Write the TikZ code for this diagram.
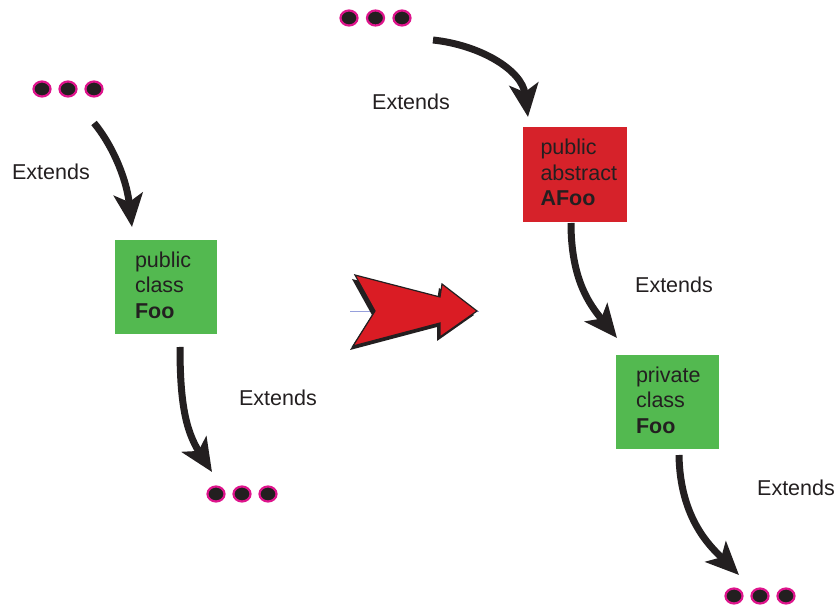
\documentclass[tikz,border=0pt]{standalone}
\usepackage{fontspec}
\setmainfont{Liberation Sans}
\usetikzlibrary{arrows.meta,shapes.geometric}
\definecolor{ink}{RGB}{35,31,32}
\definecolor{dotrim}{RGB}{222,20,140}
\definecolor{classgreen}{RGB}{83,185,80}
\definecolor{abstractred}{RGB}{214,34,42}
\definecolor{bigred}{RGB}{218,28,36}
\definecolor{guide}{RGB}{150,160,220}
\hfuzz=40pt
\hbadness=10000
\hyphenpenalty=10000

\begin{document}
\begin{tikzpicture}[x=1pt,y=-1pt,
  dotnode/.style={ellipse,draw=dotrim,line width=2.2pt,fill=ink,inner sep=0pt,
    minimum width=17pt,minimum height=15pt},
  classbox/.style={align=left,inner xsep=20pt,inner ysep=0pt,minimum height=94pt,
    text depth=55pt,text=ink,font=\fontsize{21.5}{25.5}\selectfont},
  lbl/.style={text=ink,inner sep=0pt,font=\fontsize{21.5}{25.5}\selectfont},
  extarrow/.style={draw=ink,line width=7pt,
    -{Stealth[length=33pt,width=29pt,inset=8pt]}}]
\useasboundingbox (0,0) rectangle (839,609);

% before: the dots, the class and its subclasses
\node[dotnode] (upa) at (42,89) {};
\node[dotnode] (upb) at (68,89) {};
\node[dotnode] (upc) at (94,89) {};
\node[classbox,fill=classgreen,text width=62pt] (foo) at (166,287) {public\\class\\\textbf{Foo}};
\node[dotnode] (downa) at (216,494) {};
\node[dotnode] (downb) at (242,494) {};
\node[dotnode] (downc) at (268,494) {};
\node[lbl] (ext1) at (51,172) {Extends};
\node[lbl] (ext2) at (278,398) {Extends};

% after: abstract base in between
\node[dotnode] (topa) at (349,18) {};
\node[dotnode] (topb) at (375.5,18) {};
\node[dotnode] (topc) at (402,18) {};
\node[classbox,fill=abstractred,text width=68pt,inner xsep=18pt,minimum height=95pt] (afoo) at (574.5,174.5) {public\\abstract\\\textbf{AFoo}};
\node[classbox,fill=classgreen,text width=63pt] (pfoo) at (667.5,402) {private\\class\\\textbf{Foo}};
\node[dotnode] (enda) at (734,596) {};
\node[dotnode] (endb) at (760,596) {};
\node[dotnode] (endc) at (786,596) {};
\node[lbl] (ext3) at (411,102) {Extends};
\node[lbl] (ext4) at (674,285) {Extends};
\node[lbl] (ext5) at (796,488) {Extends};

% arrow ends
\coordinate (a1s) at (94,123);
\coordinate (a1e) at (132,227);
\coordinate (a2s) at (180,347);
\coordinate (a2e) at (212,472);
\coordinate (a3s) at (433,40);
\coordinate (a3e) at (528,117);
\coordinate (a4s) at (571,223);
\coordinate (a4e) at (617,338);
\coordinate (a5s) at (679,455);
\coordinate (a5e) at (739,575);

\draw[extarrow] (a1s) .. controls (110,142) and (126,175) .. (a1e);
\draw[extarrow] (a2s) .. controls (180,400) and (185,430) .. (a2e);
\draw[extarrow] (a3s) .. controls (480,45) and (522,70) .. (a3e);
\draw[extarrow] (a4s) .. controls (571,280) and (590,305) .. (a4e);
\draw[extarrow] (a5s) .. controls (680,520) and (712,548) .. (a5e);

% the big red arrow
\draw[guide,line width=1pt] (350,312) -- (479,312);
\fill[ink,shift={(-3,4)}] (355,275) -- (440,297) -- (442,284) -- (477,311) -- (440,337)
  -- (440,323) -- (353,346) -- (375,311) -- cycle;
\filldraw[fill=bigred,draw=ink,line width=1.2pt] (355,275) -- (440,297) -- (442,284)
  -- (477,311) -- (440,337) -- (440,323) -- (353,346) -- (375,311) -- cycle;
\end{tikzpicture}
\end{document}
